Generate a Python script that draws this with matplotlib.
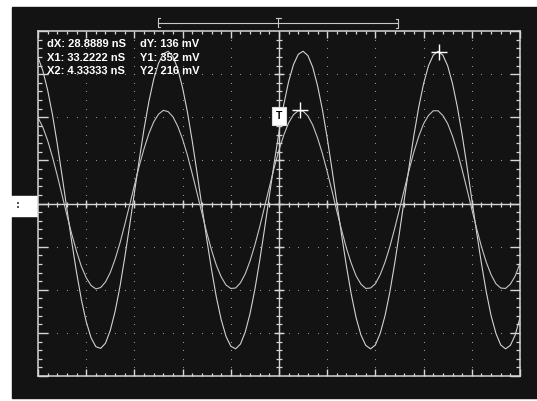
import numpy as np
import matplotlib.pyplot as plt
from matplotlib.patches import Rectangle
from matplotlib.lines import Line2D

# sample times (ns) and the two traces (mV)
t_ns = list(range(-50, 51))
ch1_mv = [339, 308, 263, 206, 138, 64, -13, -89, -160, -223,
          -274, -311, -332, -336, -324, -294, -250, -193, -125, -52,
          25, 101, 173, 236, 288, 325, 347, 353, 341, 312,
          268, 212, 145, 71, -6, -82, -153, -217, -269, -308,
          -331, -337, -326, -298, -255, -199, -132, -59, 18, 94,
          166, 230, 283, 322, 346, 353, 343, 316, 273, 218,
          152, 79, 2, -74, -146, -211, -265, -305, -329, -337,
          -328, -301, -260, -205, -139, -67, 10, 86, 159, 224,
          278, 319, 344, 353, 344, 319, 278, 224, 159, 86,
          10, -67, -139, -205, -260, -301, -328, -337, -329, -305, -265]
ch2_mv = [199, 177, 146, 108, 65, 19, -27, -71, -111, -146,
          -172, -190, -198, -195, -182, -160, -129, -92, -49, -4,
          42, 87, 127, 162, 189, 207, 216, 213, 201, 179,
          149, 112, 69, 24, -22, -67, -108, -143, -170, -189,
          -197, -196, -184, -163, -133, -96, -54, -8, 38, 83,
          124, 159, 187, 206, 215, 214, 203, 182, 152, 116,
          74, 29, -18, -62, -104, -139, -168, -187, -197, -196,
          -186, -165, -136, -100, -58, -13, 33, 78, 120, 156,
          185, 204, 215, 215, 204, 185, 156, 120, 78, 33,
          -13, -58, -100, -136, -165, -186, -196, -197, -187, -168, -139]

cursor_x = [4.33333, 33.2222]
cursor_y = [216, 352]
trig_mv = 203

readout_left = ["dX: 28.8889 nS", "X1: 33.2222 nS", "X2: 4.33333 nS"]
readout_right = ["dY: 136 mV", "Y1: 352 mV", "Y2: 216 mV"]

W, H = 537, 401
BG = '#131313'
FG = '#d6d6d6'

fig = plt.figure(figsize=(W / 100, H / 100), dpi=100, facecolor='white')

def fx(px):
    return px / W

def fy(py):
    return 1 - py / H

# dark screen + channel marker on the left
fig.add_artist(Rectangle((fx(12), fy(398)), fx(W - 12), (398 - 7) / H,
                         transform=fig.transFigure, color=BG, zorder=-2))
fig.add_artist(Rectangle((0, fy(216)), fx(38), 20 / H,
                         transform=fig.transFigure, color='white', zorder=-1))
fig.text(fx(18), fy(205), ':', color='#444444', fontsize=7, fontweight='bold',
         ha='center', va='center')

# record-length bracket on top
def fline(xs, ys, **kw):
    fig.add_artist(Line2D([fx(v) for v in xs], [fy(v) for v in ys],
                          transform=fig.transFigure, color='#c8c8c8', lw=0.8, **kw))

fline([158, 398], [22.5, 22.5])
fline([160, 158, 158, 160], [18, 18, 27, 27])
fline([396, 398, 398, 396], [18.5, 18.5, 27.5, 27.5])
fline([275.5, 281], [17.5, 17.5])
fline([278.3, 278.3], [17.5, 27])

ax = fig.add_axes([fx(38), fy(376), 482 / W, 345 / H])
ax.set_facecolor(BG)
ax.set_xlim(-50, 50)
ax.set_ylim(-400, 400)

for s in ax.spines.values():
    s.set_color(FG)
    s.set_linewidth(1.1)

ax.set_xticks(np.arange(-50, 51, 10))
ax.set_xticks(np.arange(-50, 51, 2), minor=True)
ax.set_yticks(np.arange(-400, 401, 100))
ax.set_yticks(np.arange(-400, 401, 20), minor=True)
ax.tick_params(axis='x', which='major', direction='in', length=5, width=1,
               color=FG, top=True, labelbottom=False)
ax.tick_params(axis='x', which='minor', direction='in', length=2.5, width=0.9,
               color=FG, top=True)
ax.tick_params(axis='y', which='major', direction='in', length=7, width=1,
               color=FG, right=True, labelleft=False)
ax.tick_params(axis='y', which='minor', direction='in', length=2.8, width=0.9,
               color=FG, right=True)

# dotted graticule
dot = '#999999'
for gx in range(-40, 41, 10):
    if gx == 0:
        continue
    yy = np.arange(-380, 381, 20)
    ax.plot(np.full(len(yy), gx), yy, ls='', marker='.', ms=1.7, color=dot, mew=0)
for gy in range(-300, 301, 100):
    if gy == 0:
        continue
    xx = np.arange(-48, 49, 2)
    ax.plot(xx, np.full(len(xx), gy), ls='', marker='.', ms=1.7, color=dot, mew=0)

# centre cross with ticks
ax.axhline(0, color=FG, lw=1.0)
ax.axvline(0, color=FG, lw=1.0)
xm = np.arange(-48, 49, 2)
ax.plot(xm, np.zeros(len(xm)), ls='', marker='|', ms=3.6, mew=0.9, color=FG)
xM = np.arange(-40, 41, 10)
ax.plot(xM, np.zeros(len(xM)), ls='', marker='|', ms=5.5, mew=1, color=FG)
ym = np.arange(-380, 381, 20)
ax.plot(np.zeros(len(ym)), ym, ls='', marker='_', ms=5, mew=0.9, color=FG)
yM = np.arange(-300, 301, 100)
ax.plot(np.zeros(len(yM)), yM, ls='', marker='_', ms=7, mew=1, color=FG)

# traces
ax.plot(t_ns, ch1_mv, color='#d2d2d2', lw=0.8)
ax.plot(t_ns, ch2_mv, color='#c4c4c4', lw=0.8)

# cursors and trigger marker
ax.plot(cursor_x, cursor_y, ls='', marker='+', ms=11.5, mew=1, color='white')
ax.text(0, trig_mv, 'T', ha='center', va='center', color='black', fontsize=7.5,
        fontweight='bold', family='Liberation Sans',
        bbox=dict(boxstyle='square,pad=0.35', fc='white', ec='#dddddd', lw=0.8))

# readout
for i, (a, b) in enumerate(zip(readout_left, readout_right)):
    yb = [47, 61, 74.5][i]
    fig.text(fx(47), fy(yb), a, color='white', fontsize=8, fontweight='bold',
             family='Liberation Sans', va='baseline')
    fig.text(fx(140), fy(yb), b, color='white', fontsize=8, fontweight='bold',
             family='Liberation Sans', va='baseline')

fig.savefig('out.png', dpi=100, facecolor='white')
